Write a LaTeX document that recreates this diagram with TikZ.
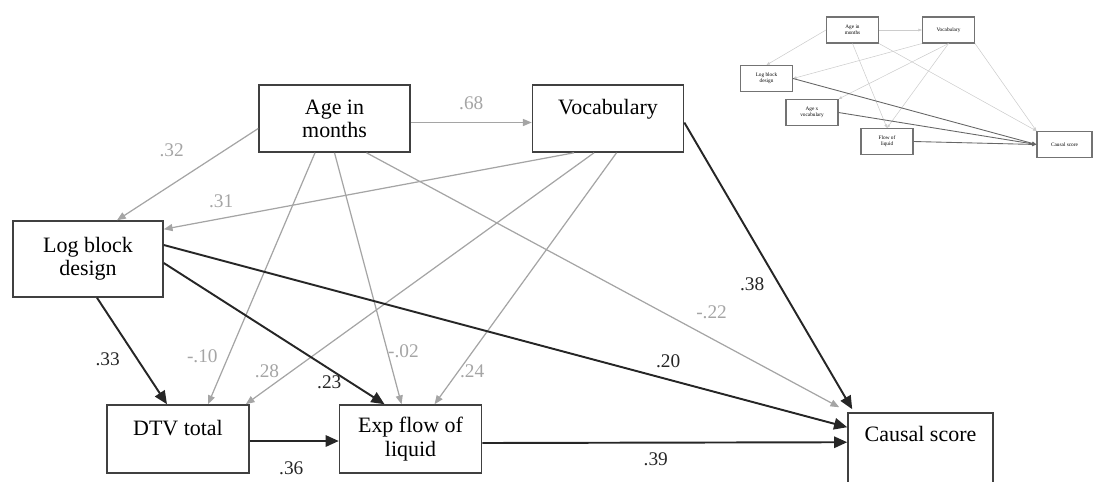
\documentclass[tikz,border=0pt]{standalone}
\usepackage{fontspec}
\setmainfont{Liberation Serif}
\usetikzlibrary{positioning,calc,arrows,arrows.meta}

\definecolor{pathgray}{RGB}{165,165,165}

\begin{document}
\begin{tikzpicture}[x=0.02cm, y=-0.02cm, every node/.style={},
    var/.style={draw=black!75, line width=0.9pt, minimum width=3.02cm, minimum height=1.34cm, align=center, inner sep=2pt, font=\fontsize{12.5}{13.2}\selectfont},
    gpath/.style={draw=pathgray, line width=0.7pt, -{Triangle[length=5pt,width=4pt]}},
    bpath/.style={draw=black!85, line width=1.1pt, -{Triangle[length=7.5pt,width=6.5pt]}},
    gw/.style={text=pathgray, font=\fontsize{11}{12}\selectfont},
    bw/.style={text=black!85, font=\fontsize{11}{12}\selectfont},
    mini/.style={draw=black!55, line width=0.6pt, minimum width=1.04cm, minimum height=0.52cm, align=center, inner sep=0.5pt, font=\fontsize{3}{3.5}\selectfont},
    mg/.style={draw=black!20, line width=0.3pt, -{Triangle[length=2pt,width=1.5pt]}},
    mb/.style={draw=black!60, line width=0.5pt, -{Triangle[length=2.5pt,width=2pt]}} ]

    \useasboundingbox (0,0) rectangle (1095,481);

    \node[var] (age) at (334.5,118.5) {Age in\\months};
    \node[var] (vocab) [right=2.42cm of age] {Vocabulary\\~};
    \node[var, minimum width=3.0cm, minimum height=1.52cm] (logb) at (88,259) {Log block\\design};
    \node[var, minimum width=2.84cm, minimum height=1.36cm] (dtv) at (178,439) {DTV total\\~};
    \node[var, minimum width=2.84cm, minimum height=1.36cm] (expf) [right=1.78cm of dtv] {Exp flow of\\liquid};
    \node[var, minimum width=2.9cm, minimum height=1.5cm] (causal) at (920.5,450.5) {Causal score\\[6pt]~};

    \draw[gpath] ($(age.east)+(0,4)$) -- node[gw, shift={(0,-19)}] (w68) {.68} ($(vocab.west)+(0,4)$);
    \draw[gpath] ($(age.west)+(0,10)$) -- node[gw, shift={(-16,-24)}] (w32) {.32} ($(logb.north)+(29,0)$);
    \draw[gpath] ($(vocab.south)+(-34,0)$) -- node[gw, pos=0.86, shift={(0,-17)}] (w31) {.31} ($(logb.north east)+(0,9)$);
    \draw[gpath] ($(age.south)+(-19.5,0)$) -- node[gw, pos=0.81, shift={(-26,0)}] (w10) {-.10} ($(dtv.north)+(30,0)$);
    \draw[gpath] ($(vocab.south)+(-14,0)$) -- node[gw, pos=0.87, shift={(-24,0)}] (w28) {.28} ($(dtv.north east)+(-4,0)$);
    \draw[gpath] (age.south) -- node[gw, pos=0.79, shift={(16,0)}] (w02) {-.02} ($(expf.north)+(-9,0)$);
    \draw[gpath] ($(vocab.south)+(8.5,0)$) -- node[gw, pos=0.87, shift={(14,0)}] (w24) {.24} ($(expf.north)+(24,0)$);
    \draw[gpath] ($(age.south)+(32,0)$) -- node[gw, pos=0.73, shift={(0,-26)}] (w22) {-.22} ($(causal.north west)+(-8,-5)$);

    \draw[bpath] ($(vocab.east)+(0,4)$) -- node[bw, pos=0.565, shift={(-27,0)}] (w38) {.38} ($(causal.north west)+(5,-3)$);
    \draw[bpath] ($(logb.east)+(0,-14)$) -- node[bw, pos=0.738, shift={(0,-18)}] (w20) {.20} ($(causal.north west)+(0,15)$);
    \draw[bpath] ($(logb.south)+(9,0)$) -- node[bw, pos=0.58, shift={(-30,0)}] (w33) {.33} ($(dtv.north)+(-11,0)$);
    \draw[bpath] ($(logb.east)+(0,4)$) -- node[bw, pos=0.845, shift={(-21,0)}] (w23) {.23} ($(expf.north)+(-26,0)$);
    \draw[bpath] ($(dtv.east)+(0,2)$) -- node[bw, shift={(-3,27)}] (w36) {.36} ($(expf.west)+(0,2)$);
    \draw[bpath] ($(expf.east)+(0,4)$) -- node[bw, shift={(-9,17)}] (w39) {.39} ($(causal.north west)+(0,30)$);

    \node[mini] (tage) at (852.5,30) {Age in\\months};
    \node[mini] (tvocab) at (948.5,30) {Vocabulary};
    \node[mini] (tlogb) at (766.5,78.5) {Log block\\design};
    \node[mini] (tagev) at (812,112.5) {Age x\\vocabulary};
    \node[mini] (tflow) at (887,141.5) {Flow of\\liquid};
    \node[mini, minimum width=1.1cm] (tcausal) at (1064.5,144.5) {Causal score};

    \draw[mg] (tage) -- (tvocab);
    \draw[mg] (tage.west) -- (tlogb.north);
    \draw[mg] (tvocab.south west) -- (tlogb.east);
    \draw[mg] (tage.south) -- (tflow.north);
    \draw[mg] (tvocab.south) -- (tagev.north east);
    \draw[mg] (tvocab.south) -- (tflow.north);
    \draw[mg] (tage.south east) -- (tcausal.north west);
    \draw[mg] (tvocab.south east) -- (tcausal.north west);
    \draw[mb] (tlogb.east) -- (tcausal.west);
    \draw[mb] (tagev.east) -- (tcausal.west);
    \draw[mb] (tflow.east) -- (tcausal.west);

\end{tikzpicture}
\end{document}
